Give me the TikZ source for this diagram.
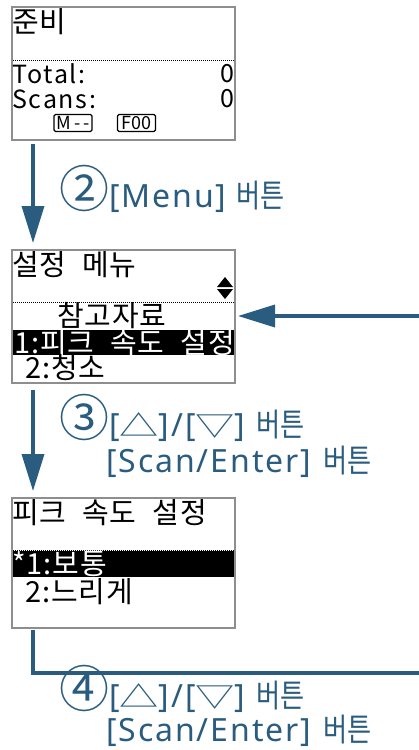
\documentclass[tikz,border=0pt]{standalone}
\usepackage{fontspec}
\setmainfont{Noto Sans CJK KR}
\newfontfamily\lcdfont[LetterSpace=3]{Noto Sans CJK KR}
\newfontfamily\lcdascii[LetterSpace=7]{Noto Sans CJK KR}
\newfontfamily\keyfont[LetterSpace=6]{Noto Sans}
\newfontfamily\krfont[FakeStretch=0.82]{Noto Sans CJK KR}
\newfontfamily\symfont{Noto Sans CJK KR}
\newcommand\kr[1]{{\krfont\fontsize{32}{32}\selectfont #1}}
\newcommand\stepno[1]{{\symfont\fontsize{50}{50}\selectfont #1}}
\newcommand\keysym[1]{{\symfont\fontsize{29}{29}\selectfont\scalebox{1.35}[1]{#1}}}
\usetikzlibrary{arrows.meta}

\definecolor{flow}{HTML}{2A5C7F}
\definecolor{bezel}{HTML}{8E8E8E}

\begin{document}
\begin{tikzpicture}[x=1pt,y=-1pt,
  screen/.style={draw=bezel,line width=2pt,minimum width=223pt,inner sep=0pt},
  lcd/.style={anchor=west,inner sep=0pt,font=\lcdfont\fontsize{29}{29}\selectfont},
  lcdnum/.style={anchor=west,inner sep=0pt,font=\lcdascii\fontsize{25}{25}\selectfont},
  lcdkey/.style={draw,line width=1.2pt,rounded corners=1.5pt,inner sep=1pt,minimum width=38pt,minimum height=17pt,font=\fontsize{18}{18}\selectfont},
  steplabel/.style={anchor=base west,inner sep=0pt,text=flow,font=\keyfont\fontsize{32}{32}\selectfont},
  flowline/.style={draw=flow,line width=3.5pt},
  flowarrow/.style={flowline,-{Triangle[length=37pt,width=22pt]}},
  dotrule/.style={line width=1pt,dash pattern=on 1pt off 1pt}]
\useasboundingbox (0,0) rectangle (419,750);

% screens
\node[screen,minimum height=133pt] (ready) at (123.5,73.5) {};
\node[screen,minimum height=133pt] (menu) at (123.5,316.5) {};
\node[screen,minimum height=130pt] (speed) at (123.5,563) {};
\coordinate (col) at (33,0);
\coordinate (feed) at (419,316);
\coordinate (back) at (419,673);

% ready screen
\node[lcd] (readytitle) at (12,22) {준비};
\draw[dotrule] (13,60) -- (234,60);
\node[lcdnum] (total) at (12,74) {Total:};
\node[lcdnum,anchor=east] (totalnum) at (235,74) {0};
\node[lcdnum] (scans) at (12,99) {Scans:};
\node[lcdnum,anchor=east] (scansnum) at (235,99) {0};
\node[lcdkey] (mode) at (73,123) {M\,-\,-};
\node[lcdkey] (func) at (136.5,123) {F00};

% menu screen
\node[lcd] (menutitle) at (12,265) {설정\hspace{16pt}메뉴};
\fill (225,277) -- (233,287) -- (217,287) -- cycle;
\fill (225,299) -- (233,289) -- (217,289) -- cycle;
\draw[dotrule] (13,302) -- (234,302);
\node[lcd] (guide) at (57,316) {참고자료};
\fill (13,330) rectangle (234,355);
\begin{scope}
\clip (13,330) rectangle (234,355);
\node[lcd,text=white] (itemspeed) at (14,342.5) {1:피크\hspace{16pt}속도\hspace{16pt}설정};
\end{scope}
\node[lcd] (itemclean) at (25,368) {2:청소};

% speed screen
\node[lcd] (speedtitle) at (12,513) {피크\hspace{16pt}속도\hspace{16pt}설정};
\draw[dotrule] (13,550) -- (234,550);
\fill (13,551) rectangle (234,577);
\node[lcd,text=white] (normal) at (12,564) {*1:보통};
\node[lcd] (slow) at (25,592) {2:느리게};

% flow
\draw[flowarrow,shorten <=3pt,shorten >=6pt] (ready.south -| col) -- (menu.north -| col);
\draw[flowarrow,shorten <=6pt,shorten >=6pt] (menu.south -| col) -- (speed.north -| col);
\draw[flowarrow,shorten >=2pt] (feed) -- (menu.east |- feed);
\draw[flowline,shorten <=1pt] (speed.south -| col) |- (back);

% labels
\node[steplabel] (menukey) at (59,207) {\stepno{②}[Menu]\hspace{10pt}\kr{버튼}};
\node[steplabel] (arrowkeys) at (59,436) {\stepno{③}[\keysym{△}]/[\keysym{▽}]\hspace{11pt}\kr{버튼}};
\node[steplabel] (enterkey) at (106,472) {[Scan/Enter]\hspace{12pt}\kr{버튼}};
\node[steplabel] (arrowkeysb) at (59,707) {\stepno{④}[\keysym{△}]/[\keysym{▽}]\hspace{11pt}\kr{버튼}};
\node[steplabel] (enterkeyb) at (106,741) {[Scan/Enter]\hspace{12pt}\kr{버튼}};
\end{tikzpicture}
\end{document}
